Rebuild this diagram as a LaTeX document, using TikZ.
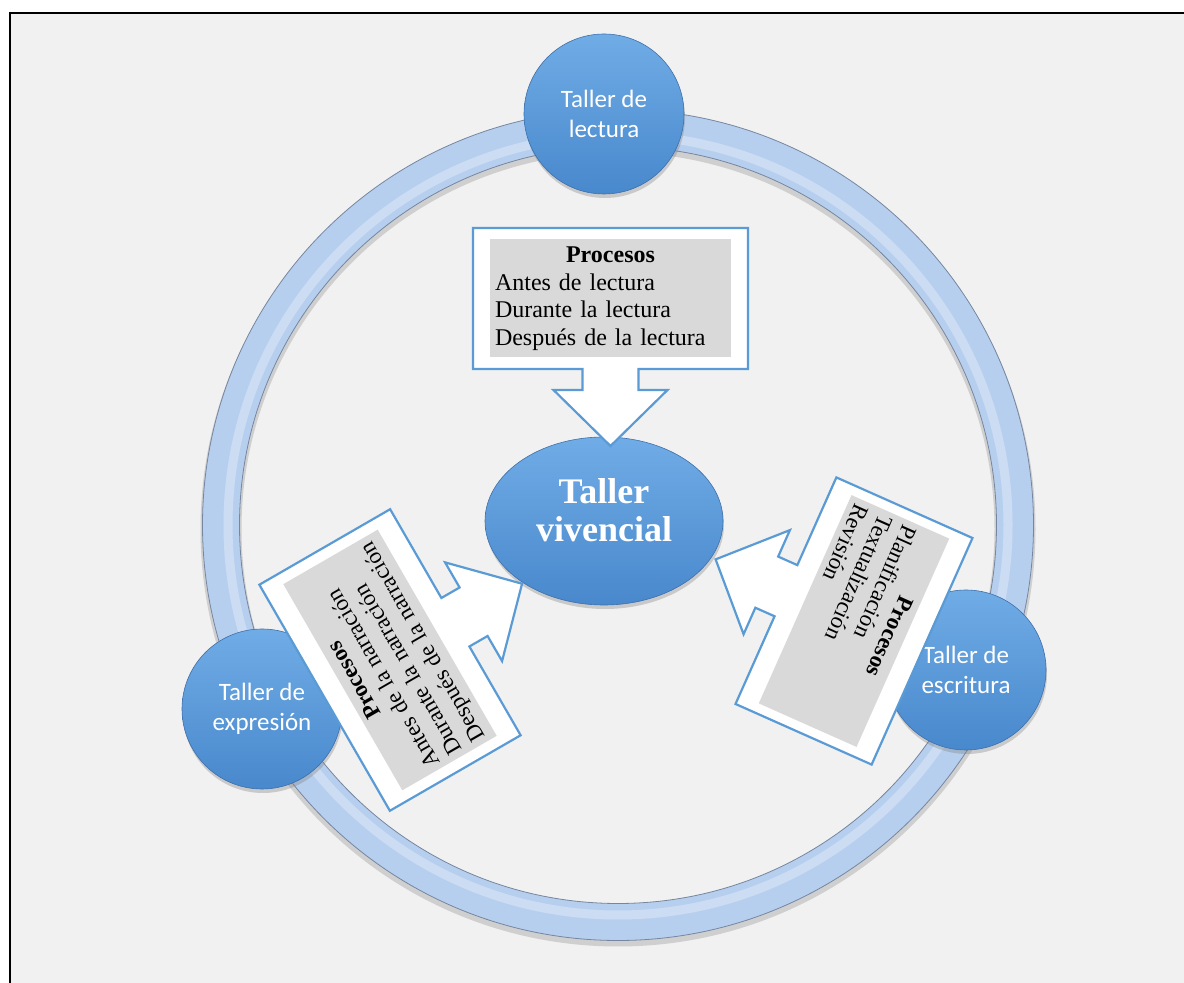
\documentclass[tikz,border=0pt]{standalone}
\usepackage{fontspec}
\setmainfont{Liberation Serif}
\newfontfamily\calibri{Carlito}
\usetikzlibrary{shapes.geometric,shadows}
\definecolor{bgcol}{RGB}{241,241,241}
\definecolor{ringblue}{RGB}{183,207,238}
\definecolor{ringedge}{RGB}{118,134,160}
\definecolor{balltop}{RGB}{112,172,230}
\definecolor{ballbot}{RGB}{72,136,204}
\definecolor{balledge}{RGB}{62,112,172}
\definecolor{calloutblue}{RGB}{91,155,213}
\definecolor{procgray}{RGB}{217,217,217}
\tikzstyle{taller}=[circle,minimum size=160pt,inner sep=0pt,top color=balltop,bottom color=ballbot,draw=balledge,line width=0.6pt,text=white,align=center,font=\calibri\fontsize{25}{30}\selectfont,drop shadow={shadow xshift=1pt,shadow yshift=-4pt,opacity=.35}]
\tikzstyle{centro}=[ellipse,minimum width=238pt,minimum height=168pt,inner sep=0pt,top color=balltop,bottom color=ballbot,draw=balledge,line width=0.6pt,drop shadow={shadow xshift=1pt,shadow yshift=-4pt,opacity=.35}]
\tikzstyle{callout}=[draw=calloutblue,fill=white,line width=2.2pt,line join=miter]
\tikzstyle{proc}=[fill=procgray,inner xsep=5pt,inner ysep=4pt,align=left,font=\fontsize{24}{27.5}\selectfont]
\tikzstyle{procside}=[proc,font=\fontsize{23}{26}\selectfont]
\newcommand{\proctitle}{\makebox[\linewidth]{\textbf{Procesos}}}
\begin{document}
\begin{tikzpicture}[x=1pt,y=1pt]

    \useasboundingbox (0,0) rectangle (1184,983);
    \fill[white] (0,0) rectangle (1184,983);
    \fill[bgcol] (10,0) rectangle (1184,970);
    \draw[line width=2.5pt] (10,0) -- (10,970) -- (1184,970);

    % ring
    \draw[line width=41pt, black!35, opacity=.45] (618,454) circle (397);
    \draw[line width=37pt, ringblue] (618,458) circle (397);
    \draw[line width=9pt, white, opacity=.3] (618,458) circle (390);
    \draw[line width=0.8pt, ringedge] (618,458) circle (415.5);
    \draw[line width=0.8pt, ringedge] (618,458) circle (378.5);

    \node[taller] (lectura) at (604,869) {Taller de\\lectura};
    \node[taller] (expresion) at (262,274) {Taller de\\expresión};
    \node[taller] (escritura) at (966,313) {Taller de\\escritura};

    \node[centro] (viv) at (604,462) {};
    \node[text=white, align=center, font=\bfseries\fontsize{36}{38}\selectfont] (vivtxt) at ([yshift=11pt]viv.center) {Taller\\vivencial};

    % callouts: centre / rotation / width / height
    \foreach \cx/\cy/\rot/\w/\h in {610.5/684.5/0/275/141, 390/323/120/261/151, 854/362/-114/248/149}
        \draw[callout, shift={(\cx,\cy)}, rotate=\rot] (-\w/2,\h/2) -- (\w/2,\h/2) -- (\w/2,-\h/2) -- (28,-\h/2) -- (28,-\h/2-21) -- (57,-\h/2-21) -- (0,-\h/2-77) -- (-57,-\h/2-21) -- (-28,-\h/2-21) -- (-28,-\h/2) -- (-\w/2,-\h/2) -- cycle;

    \node[proc, text width=231pt, minimum height=118pt] (procT) at (610.5,684.5)
        {\proctitle\\Antes de lectura\\Durante la lectura\\Después de la lectura};
    \node[procside, text width=228pt, minimum height=109pt, rotate=120] (procL) at (390,323)
        {\proctitle\\Antes de la narración\\Durante la narración\\Después de la narración};
    \node[procside, text width=218pt, minimum height=107pt, rotate=-114] (procR) at (854,362)
        {\proctitle\\Planificación\\Textualización\\Revisión};

\end{tikzpicture}
\end{document}
